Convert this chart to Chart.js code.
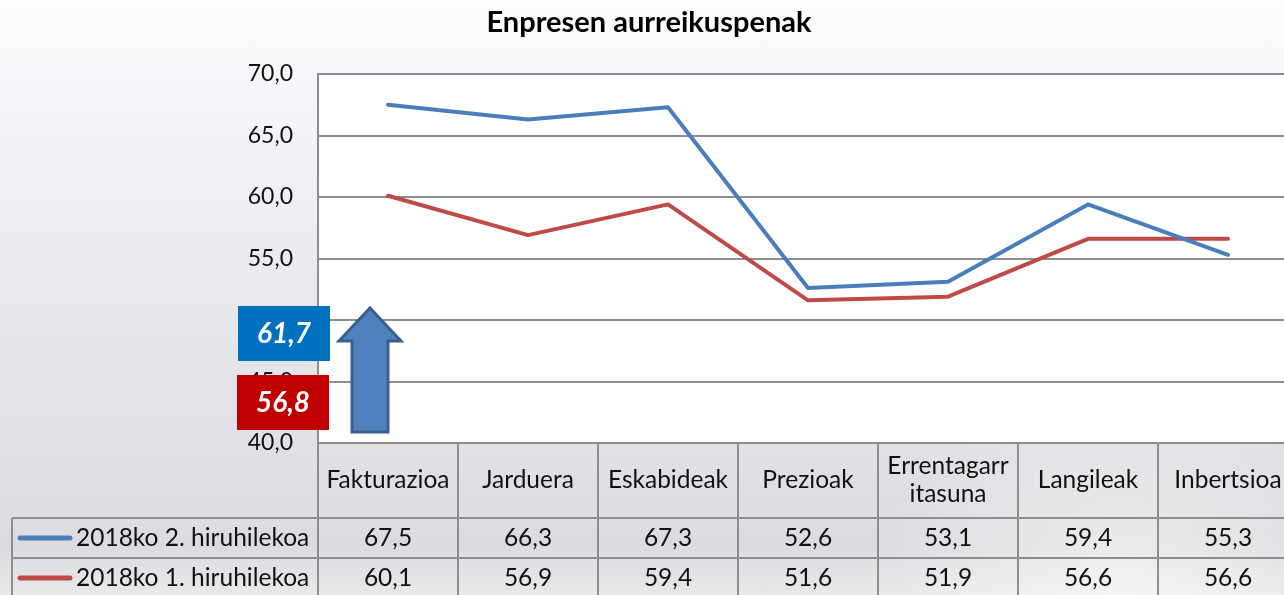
<!DOCTYPE html>
<html>
<head>
<meta charset="utf-8">
<script src="https://cdn.jsdelivr.net/npm/chart.js@4/dist/chart.umd.min.js"></script>
<style>
  html, body { margin: 0; padding: 0; overflow: hidden; width: 1284px; height: 595px; }
  body {
    background:
      radial-gradient(ellipse 260px 200px at 1120px 600px, rgba(255,255,255,0.55), rgba(255,255,255,0) 100%),
      linear-gradient(to bottom, #fdfcfe 0%, #f6f5f9 18%, #ebeaee 45%, #e1e0e4 75%, #dcdbdf 92%, #e9e9eb 100%);
  }
  canvas { display: block; }
</style>
</head>
<body>
<canvas id="c" width="1300" height="595"></canvas>
<script>
const chartTitle = 'Enpresen aurreikuspenak';
const categories = ['Fakturazioa', 'Jarduera', 'Eskabideak', 'Prezioak', ['Errentagarr', 'itasuna'], 'Langileak', 'Inbertsioa'];
const seriesNames = ['2018ko 2. hiruhilekoa', '2018ko 1. hiruhilekoa'];
const q2Values = [67.5, 66.3, 67.3, 52.6, 53.1, 59.4, 55.3];
const q1Values = [60.1, 56.9, 59.4, 51.6, 51.9, 56.6, 56.6];
const yTicks = [40, 45, 50, 55, 60, 65, 70];
const calloutLabels = ['61,7', '56,8'];

const FONT = 'Lato, "Open Sans", sans-serif';
const BLUE = '#4a7ebb';
const RED = '#be4b48';
const GRID = '#8e8e8e';
const fmt = v => v.toFixed(1).replace('.', ',');

const plotBg = {
  id: 'plotBg',
  beforeDraw(chart) {
    const { ctx, chartArea: a } = chart;
    ctx.save();
    ctx.fillStyle = '#ffffff';
    ctx.fillRect(a.left, a.top, a.right - a.left, a.bottom - a.top);
    ctx.restore();
  }
};

const dataTable = {
  id: 'dataTable',
  afterDraw(chart) {
    const { ctx, chartArea: a } = chart;
    const x = chart.scales.x;
    const half = (x.getPixelForValue(1) - x.getPixelForValue(0)) / 2;
    const hTop = a.bottom, hBot = a.bottom + 75, r1Bot = hBot + 40, r2Bot = r1Bot + 40;
    const tableLeft = 12;
    ctx.save();
    ctx.strokeStyle = GRID;
    ctx.lineWidth = 2;
    ctx.beginPath();
    ctx.moveTo(a.left, hTop); ctx.lineTo(a.right + 10, hTop);
    ctx.moveTo(tableLeft, hBot); ctx.lineTo(a.right + 10, hBot);
    ctx.moveTo(tableLeft, r1Bot); ctx.lineTo(a.right + 10, r1Bot);
    ctx.moveTo(tableLeft, r2Bot); ctx.lineTo(a.right + 10, r2Bot);
    ctx.moveTo(tableLeft, hBot); ctx.lineTo(tableLeft, r2Bot);
    for (let i = 0; i < categories.length; i++) {
      const edge = x.getPixelForValue(i) - half;
      ctx.moveTo(edge, hTop); ctx.lineTo(edge, r2Bot);
    }
    const lastEdge = x.getPixelForValue(categories.length - 1) + half;
    ctx.moveTo(lastEdge, hTop); ctx.lineTo(lastEdge, r2Bot);
    ctx.stroke();

    ctx.fillStyle = '#111111';
    ctx.font = '24.5px ' + FONT;
    ctx.textAlign = 'center';
    ctx.textBaseline = 'middle';
    const hMid = (hTop + hBot) / 2;
    categories.forEach((c, i) => {
      const cx = x.getPixelForValue(i);
      if (Array.isArray(c)) {
        ctx.fillText(c[0], cx, hMid - 14);
        ctx.fillText(c[1], cx, hMid + 14);
      } else {
        ctx.fillText(c, cx, hMid);
      }
    });
    const rows = [
      { name: seriesNames[0], vals: q2Values, color: BLUE, mid: (hBot + r1Bot) / 2 },
      { name: seriesNames[1], vals: q1Values, color: RED, mid: (r1Bot + r2Bot) / 2 }
    ];
    rows.forEach(r => {
      r.vals.forEach((v, i) => ctx.fillText(fmt(v), x.getPixelForValue(i), r.mid));
      ctx.save();
      ctx.strokeStyle = r.color;
      ctx.lineWidth = 5;
      ctx.lineCap = 'round';
      ctx.beginPath();
      ctx.moveTo(20, r.mid); ctx.lineTo(70, r.mid);
      ctx.stroke();
      ctx.restore();
      ctx.textAlign = 'left';
      ctx.fillText(r.name, 76, r.mid);
      ctx.textAlign = 'center';
    });
    ctx.restore();
  }
};

const callouts = {
  id: 'callouts',
  afterDraw(chart) {
    const { ctx, chartArea: a } = chart;
    ctx.save();
    const boxes = [
      { text: calloutLabels[0], color: '#0070c0', x: a.left - 80, y: a.top + 232 },
      { text: calloutLabels[1], color: '#c00000', x: a.left - 81, y: a.top + 301 }
    ];
    boxes.forEach(b => {
      ctx.fillStyle = b.color;
      ctx.fillRect(b.x, b.y, 92, 55);
      ctx.fillStyle = '#ffffff';
      ctx.font = 'italic bold 28px ' + FONT;
      ctx.textAlign = 'center';
      ctx.textBaseline = 'middle';
      ctx.fillText(b.text, b.x + 46, b.y + 28);
    });
    const ax = a.left + 52, tip = a.top + 234;
    ctx.beginPath();
    ctx.moveTo(ax, tip);
    ctx.lineTo(ax + 31, tip + 33);
    ctx.lineTo(ax + 18, tip + 33);
    ctx.lineTo(ax + 18, tip + 124);
    ctx.lineTo(ax - 18, tip + 124);
    ctx.lineTo(ax - 18, tip + 33);
    ctx.lineTo(ax - 31, tip + 33);
    ctx.closePath();
    ctx.fillStyle = '#4f81bd';
    ctx.fill();
    ctx.lineWidth = 3;
    ctx.lineJoin = 'miter';
    ctx.strokeStyle = '#3a5f8d';
    ctx.stroke();
    ctx.restore();
  }
};

new Chart(document.getElementById('c'), {
  type: 'line',
  data: {
    labels: categories,
    datasets: [
      { label: seriesNames[0], data: q2Values, borderColor: BLUE, backgroundColor: BLUE, borderWidth: 4, pointRadius: 0, tension: 0, borderCapStyle: 'round', borderJoinStyle: 'round' },
      { label: seriesNames[1], data: q1Values, borderColor: RED, backgroundColor: RED, borderWidth: 4, pointRadius: 0, tension: 0, borderCapStyle: 'round', borderJoinStyle: 'round' }
    ]
  },
  options: {
    responsive: false,
    animation: false,
    devicePixelRatio: 1,
    layout: { padding: { left: 0, right: 2, top: 0, bottom: 152 } },
    plugins: {
      legend: { display: false },
      tooltip: { enabled: false },
      title: {
        display: true,
        text: chartTitle,
        color: '#000000',
        font: { family: FONT, size: 29, weight: 'bold' },
        padding: { top: 5, bottom: 34.2 }
      }
    },
    scales: {
      x: { type: 'category', offset: true, display: false },
      y: {
        min: 40, max: 70,
        afterFit(s) { s.width = 318; },
        afterBuildTicks(s) { s.ticks = yTicks.map(v => ({ value: v })); },
        ticks: {
          padding: 25,
          color: '#111111',
          font: { family: FONT, size: 23 },
          callback: v => fmt(v)
        },
        grid: { color: GRID, lineWidth: 2, drawTicks: false },
        border: { display: true, color: GRID, width: 2 }
      }
    }
  },
  plugins: [plotBg, dataTable, callouts]
});
</script>
</body>
</html>
